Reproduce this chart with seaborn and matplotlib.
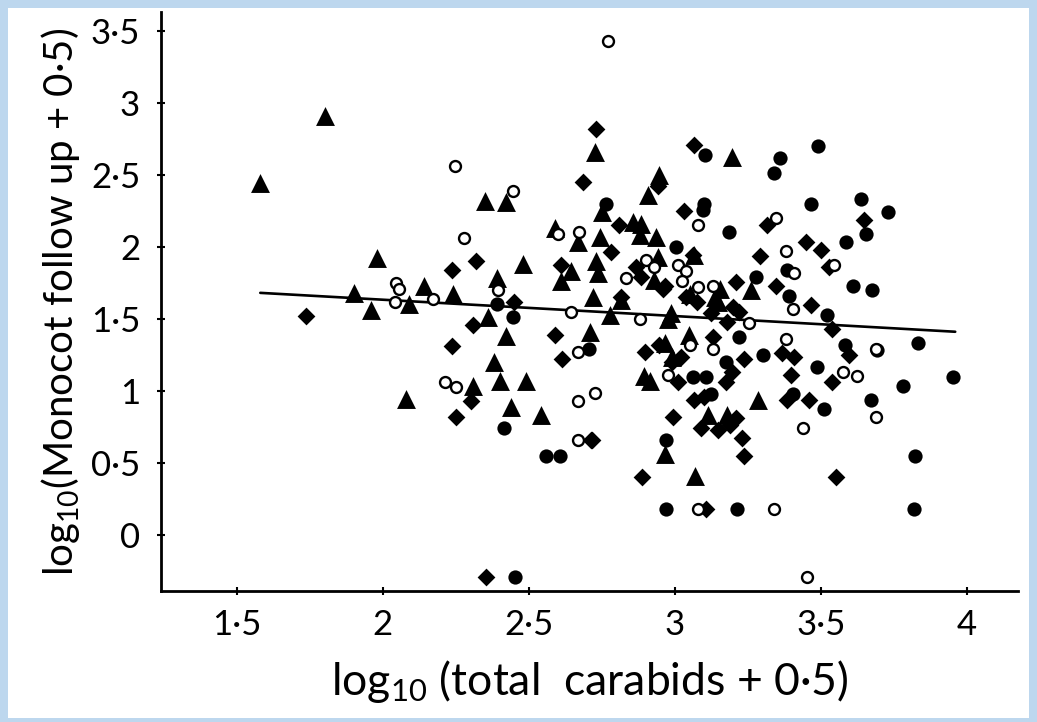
import matplotlib
matplotlib.use("Agg")
import matplotlib.pyplot as plt
from matplotlib.patches import Rectangle
import seaborn as sns

# ---------------- data ----------------
tri_x = [1.58, 1.80, 1.98, 1.90, 1.96, 2.09, 2.14, 2.24, 2.08, 2.35, 2.42, 2.39, 2.48, 2.36,
         2.42, 2.38, 2.40, 2.49, 2.31, 2.44, 2.54, 2.59, 2.61, 2.645, 2.667, 2.725, 2.742,
         2.752, 2.73, 2.736, 2.719, 2.709, 2.816, 2.776, 2.855, 2.885, 2.882, 2.935, 2.947,
         2.909, 2.941, 2.93, 2.975, 2.987, 2.966, 2.99, 2.895, 2.913, 2.965, 3.07, 3.047,
         3.112, 3.18, 3.197, 3.283, 3.146, 3.064, 3.053, 3.139, 3.155, 3.261]
tri_y = [2.44, 2.91, 1.92, 1.68, 1.56, 1.60, 1.73, 1.67, 0.94, 2.32, 2.31, 1.78, 1.88, 1.51,
         1.38, 1.20, 1.07, 1.07, 1.03, 0.89, 0.83, 2.13, 1.76, 1.83, 2.03, 2.66, 2.07,
         2.24, 1.90, 1.815, 1.65, 1.41, 1.63, 1.525, 2.17, 2.16, 2.08, 2.07, 2.50,
         2.36, 1.93, 1.77, 1.50, 1.537, 1.33, 1.235, 1.10, 1.07, 0.56, 0.41, 1.386,
         0.83, 0.83, 2.62, 0.934, 1.62, 1.94, 1.67, 1.65, 1.71, 1.70]

dia_x = [1.735, 2.237, 2.318, 2.237, 2.307, 2.30, 2.25, 2.45, 2.352, 2.59, 2.612, 2.714,
         2.684, 2.73, 2.896, 2.947, 3.02, 2.99, 3.012, 3.064, 3.100, 2.995, 3.175, 3.235,
         2.888, 3.106, 3.09, 3.146, 3.19, 3.21, 3.231, 3.235, 2.958, 3.038, 3.129, 3.209,
         3.066, 2.941, 3.032, 2.81, 2.782, 3.061, 2.611, 2.867, 2.884, 2.966, 2.816,
         3.317, 3.448, 3.50, 3.648, 3.528, 3.29, 3.346, 3.465, 3.539, 3.22, 3.20, 3.597,
         3.368, 3.408, 3.397, 3.539, 3.385, 3.46, 3.55, 3.197, 2.717, 3.124, 3.18, 3.075]
dia_y = [1.52, 1.84, 1.90, 1.31, 1.46, 0.93, 0.82, 1.62, -0.295, 1.39, 1.22, 0.66,
         2.45, 2.82, 1.27, 1.317, 1.235, 1.20, 1.063, 0.934, 0.96, 0.818, 1.06, 1.224,
         0.40, 0.18, 0.74, 0.73, 0.76, 0.81, 0.67, 0.55, 1.71, 1.65, 1.374, 1.757,
         2.71, 2.42, 2.25, 2.15, 1.965, 1.94, 1.87, 1.86, 1.79, 1.73, 1.65,
         2.15, 2.035, 1.98, 2.185, 1.86, 1.935, 1.73, 1.595, 1.43, 1.55, 1.58, 1.247,
         1.259, 1.235, 1.108, 1.06, 0.934, 0.934, 0.40, 1.13, 0.656, 1.537, 1.48, 1.615]

cir_x = [2.413, 2.454, 2.56, 2.605, 2.39, 2.445, 2.707, 2.765, 3.004, 3.103, 3.101, 3.097,
         3.186, 3.491, 3.36, 3.338, 3.465, 3.636, 3.731, 3.656, 3.587, 3.277, 3.385, 3.611,
         3.674, 3.39, 3.221, 3.581, 3.693, 3.30, 3.488, 3.78, 3.403, 3.511, 3.67, 3.522,
         3.833, 3.953, 3.823, 3.819, 3.212, 2.971, 3.061, 3.106, 3.175, 3.124, 2.97]
cir_y = [0.744, -0.295, 0.545, 0.545, 1.60, 1.51, 1.29, 2.30, 2.0, 2.64, 2.30, 2.255,
         2.10, 2.70, 2.615, 2.51, 2.30, 2.33, 2.24, 2.09, 2.03, 1.79, 1.84, 1.73,
         1.70, 1.66, 1.374, 1.316, 1.28, 1.247, 1.165, 1.03, 0.98, 0.876, 0.934, 1.525,
         1.335, 1.096, 0.547, 0.18, 0.18, 0.18, 1.096, 1.096, 1.20, 0.98, 0.66]

open_x = [2.043, 2.045, 2.055, 2.172, 2.246, 2.278, 2.445, 2.394, 2.212, 2.252, 2.645, 2.667,
          2.667, 2.728, 2.667, 2.77, 2.673, 2.599, 3.078, 2.901, 2.93, 3.009, 3.038, 3.026,
          2.833, 3.078, 3.129, 2.882, 2.977, 3.05, 3.129, 3.078, 3.346, 3.382, 3.408, 3.545,
          3.403, 3.253, 3.382, 3.688, 3.574, 3.625, 3.688, 3.439, 3.34, 3.452]
open_y = [1.62, 1.745, 1.71, 1.64, 2.56, 2.06, 2.39, 1.70, 1.064, 1.026, 1.544, 1.266,
          0.927, 0.985, 0.656, 3.43, 2.10, 2.09, 2.15, 1.91, 1.86, 1.87, 1.83, 1.76,
          1.78, 1.72, 1.73, 1.497, 1.108, 1.317, 1.293, 0.18, 2.20, 1.97, 1.82, 1.87,
          1.57, 1.47, 1.363, 1.293, 1.13, 1.10, 0.818, 0.74, 0.18, -0.295]

fit_x = [1.58, 3.96]
fit_y = [1.68, 1.41]

x_ticks = [1.5, 2.0, 2.5, 3.0, 3.5, 4.0]
x_tick_labels = ["1·5", "2", "2·5", "3", "3·5", "4"]
y_ticks = [0.0, 0.5, 1.0, 1.5, 2.0, 2.5, 3.0, 3.5]
y_tick_labels = ["0", "0·5", "1", "1·5", "2", "2·5", "3", "3·5"]

x_label = "log$_{10}$ (total  carabids + 0·5)"
y_label = "log$_{10}$(Monocot follow up + 0·5)"

# ---------------- figure ----------------
sns.set_theme(style="white")
plt.rcParams["font.family"] = ["Lato", "DejaVu Sans"]
plt.rcParams["mathtext.default"] = "regular"

W, H = 1037, 722
fig = plt.figure(figsize=(W / 100, H / 100), dpi=100)
fig.patch.set_facecolor("#BDD7EE")
b = 8
fig.add_artist(Rectangle((b / W, 4 / H), 1 - 2 * b / W, 1 - (b + 4) / H,
                         transform=fig.transFigure, facecolor="white",
                         edgecolor="none", zorder=-10))

ax = fig.add_axes([161 / W, 1 - 591 / H, (1018 - 161) / W, (591 - 12) / H])
ax.set_facecolor("white")

sns.lineplot(x=fit_x, y=fit_y, ax=ax, color="black", linewidth=1.9, zorder=2)

sns.scatterplot(x=tri_x, y=tri_y, ax=ax, marker="^", s=185, color="black",
                edgecolor="black", linewidth=0, zorder=3)
sns.scatterplot(x=dia_x, y=dia_y, ax=ax, marker="D", s=82, color="black",
                edgecolor="black", linewidth=0, zorder=3)
sns.scatterplot(x=cir_x, y=cir_y, ax=ax, marker="o", s=105, color="black",
                edgecolor="black", linewidth=0, zorder=3)
sns.scatterplot(x=open_x, y=open_y, ax=ax, marker="o", s=62, facecolor="white",
                edgecolor="black", linewidth=1.7, zorder=4)

ax.set_xlim(1.24, 4.175)
ax.set_ylim(-0.39, 3.63)
ax.set_xticks(x_ticks)
ax.set_xticklabels(x_tick_labels)
ax.set_yticks(y_ticks)
ax.set_yticklabels(y_tick_labels)

for side in ["top", "right"]:
    ax.spines[side].set_visible(False)
for side in ["left", "bottom"]:
    ax.spines[side].set_color("black")
    ax.spines[side].set_linewidth(2.0)

ax.tick_params(axis="both", direction="inout", length=6, width=1.5, color="black",
               labelsize=25, labelcolor="black", left=True, bottom=True)
ax.tick_params(axis="x", pad=10)
ax.tick_params(axis="y", pad=12)

ax.set_xlabel(x_label, fontsize=32, color="black", labelpad=12)
ax.set_ylabel(y_label, fontsize=29, color="black", labelpad=6)
ax.grid(False)

fig.savefig("out.png", dpi=100, facecolor=fig.get_facecolor())
